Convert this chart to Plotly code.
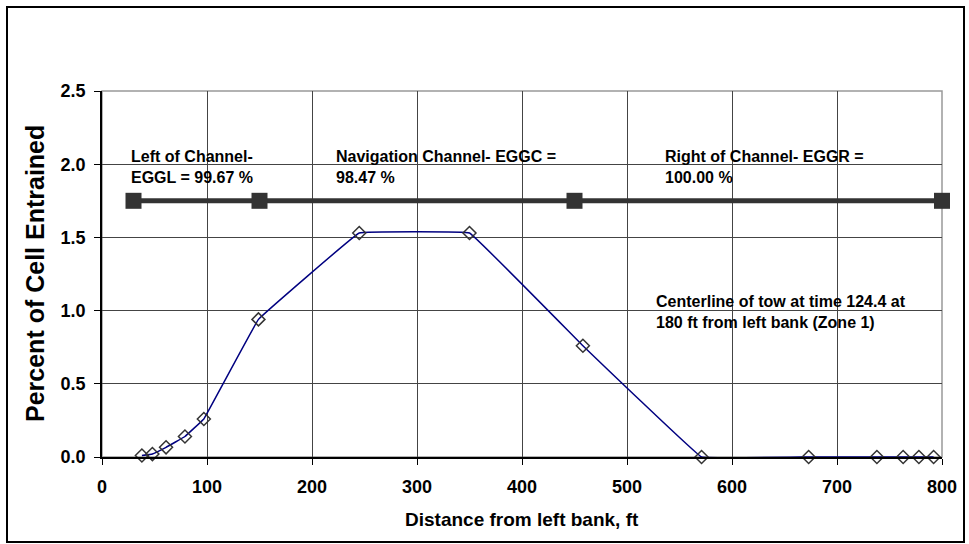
import plotly.graph_objects as go

# Data
dist_ft = [38, 48, 61, 79, 97, 149, 245, 350, 458, 571, 673, 738, 763, 778, 792]
pct_entrained = [0.01, 0.02, 0.066, 0.14, 0.26, 0.94, 1.53, 1.53, 0.76, 0.0, 0.0, 0.0, 0.0, 0.0, 0.0]

zone_x = [30, 150, 450, 800]
zone_y = [1.75, 1.75, 1.75, 1.75]

x_ticks = [0, 100, 200, 300, 400, 500, 600, 700, 800]
y_ticks = [0.0, 0.5, 1.0, 1.5, 2.0, 2.5]

notes = [
    (26, 2.124, "Left of Channel-<br>EGGL = 99.67 %"),
    (221, 2.124, "Navigation Channel- EGGC =<br>98.47 %"),
    (534, 2.124, "Right of Channel- EGGR =<br>100.00 %"),
    (526, 1.134, "Centerline of tow at time 124.4 at<br>180 ft from left bank (Zone 1)"),
]

FONT = "Liberation Sans, Arial, sans-serif"

fig = go.Figure()

fig.add_trace(go.Scatter(
    x=zone_x, y=zone_y, mode="lines+markers",
    line=dict(color="#333333", width=5),
    marker=dict(symbol="square", size=16, color="#333333"),
    cliponaxis=False, showlegend=False, hoverinfo="skip"))

fig.add_trace(go.Scatter(
    x=dist_ft, y=pct_entrained, mode="lines+markers",
    line=dict(color="#000080", width=1.5, shape="spline", smoothing=0.12),
    marker=dict(symbol="diamond-open", size=10, color="#333333", line=dict(width=1.5, color="#333333")),
    cliponaxis=False, showlegend=False))

fig.update_xaxes(
    range=[0, 800], tickvals=x_ticks, ticktext=[str(v) for v in x_ticks],
    showgrid=True, gridcolor="#444444", gridwidth=1,
    showline=True, linecolor="black", linewidth=1.5,
    ticks="outside", ticklen=6, tickcolor="black", tickwidth=1,
    ticklabelstandoff=7,
    tickfont=dict(family=FONT, size=18, color="black", weight="bold"),
    zeroline=False, automargin=False)

fig.update_yaxes(
    range=[0, 2.5], tickvals=y_ticks, ticktext=[f"{v:.1f}" for v in y_ticks],
    showgrid=True, gridcolor="#444444", gridwidth=1,
    showline=True, linecolor="black", linewidth=1.5,
    ticks="outside", ticklen=6, tickcolor="black", tickwidth=1,
    ticklabelstandoff=5,
    tickfont=dict(family=FONT, size=18, color="black", weight="bold"),
    zeroline=False, automargin=False)

L, R, T, B = 102, 27, 91, 87
W, H = 969, 544
pw, ph = W - L - R, H - T - B

def px_to_paper_x(px):
    return (px - L) / pw

def px_to_paper_y(py):
    return (H - B - py) / ph

shapes = [
    # plot area grey border
    dict(type="rect", xref="paper", yref="paper", x0=0, x1=1, y0=0, y1=1,
         line=dict(color="#999999", width=1.5), layer="below"),
    # outer chart border
    dict(type="rect", xref="paper", yref="paper",
         x0=px_to_paper_x(7), x1=px_to_paper_x(964),
         y0=px_to_paper_y(542), y1=px_to_paper_y(7),
         line=dict(color="black", width=2)),
]

annotations = []
for x, y, t in notes:
    annotations.append(dict(x=x, y=y, xref="x", yref="y", text=t, showarrow=False,
                            xanchor="left", yanchor="top", align="left",
                            font=dict(family=FONT, size=16, color="black", weight="bold")))

annotations.append(dict(x=px_to_paper_x(35), y=0.5, xref="paper", yref="paper",
                        text="Percent of Cell Entrained", textangle=-90, showarrow=False,
                        xanchor="center", yanchor="middle",
                        font=dict(family=FONT, size=25, color="black", weight="bold")))
annotations.append(dict(x=0.5, y=px_to_paper_y(519), xref="paper", yref="paper",
                        text="Distance from left bank, ft", showarrow=False,
                        xanchor="center", yanchor="middle",
                        font=dict(family=FONT, size=19, color="black", weight="bold")))

fig.update_layout(
    width=W, height=H, margin=dict(l=L, r=R, t=T, b=B),
    paper_bgcolor="white", plot_bgcolor="white",
    shapes=shapes, annotations=annotations, showlegend=False)

fig.write_html("out.html")
